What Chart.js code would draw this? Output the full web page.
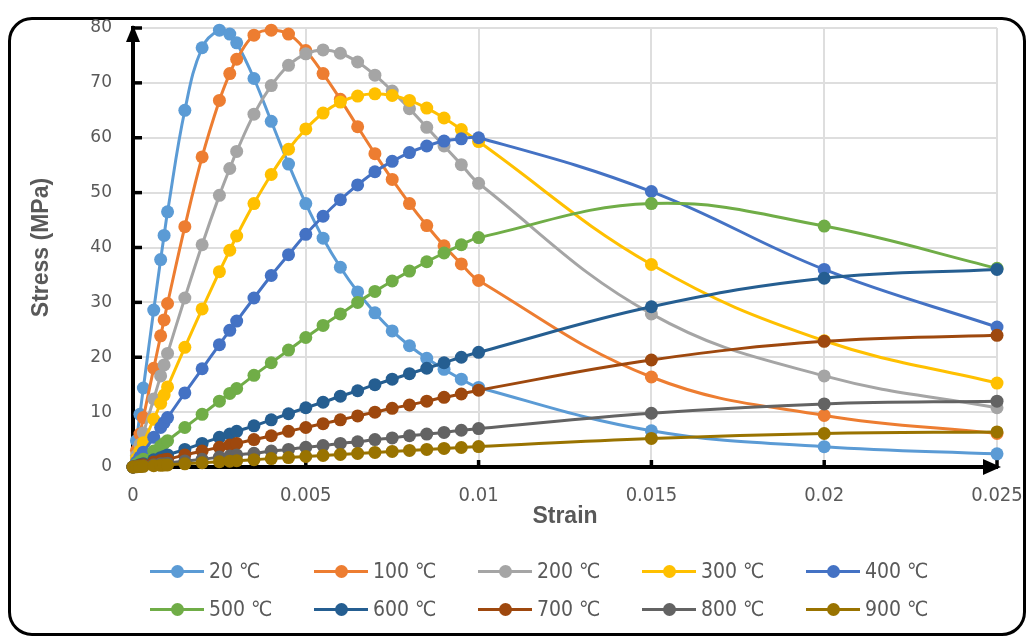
<!DOCTYPE html>
<html>
<head>
<meta charset="UTF-8">
<title>Stress - Strain</title>
<script src="https://cdn.jsdelivr.net/npm/chart.js"></script>
<style>
  html, body { margin: 0; padding: 0; background: #fff; }
  body { width: 1032px; height: 639px; position: relative; overflow: hidden; }
  #frame { position: absolute; left: 8px; top: 17px; width: 1018px; height: 619px; box-sizing: border-box;
           border: 3px solid #000; border-radius: 24px; }
  #chart { position: absolute; left: 0; top: 0; }
  #legend { position: absolute; left: 0; top: 0; width: 1032px; height: 639px;
            font-family: "Liberation Sans Narrow", "DejaVu Sans Condensed", sans-serif; font-size: 21px; color: #595959; }
  .item { position: absolute; height: 24px; display: flex; align-items: center; white-space: nowrap; }
  .sym { position: relative; width: 54px; height: 24px; }
  .sym .ln { position: absolute; left: 0; right: 0; top: 10.5px; height: 3px; }
  .sym .dot { position: absolute; left: 20.5px; top: 5.5px; width: 13px; height: 13px; border-radius: 50%; }
  .txt { margin-left: 5px; }
</style>
</head>
<body>
<div id="frame"></div>
<canvas id="chart" width="1032" height="639"></canvas>
<div id="legend"></div>
<script>
// strain values (common to all curves)
var strain = [0, 0.0001, 0.0002, 0.0003, 0.0006, 0.0008, 0.0009, 0.001, 0.0015, 0.002, 0.0025, 0.0028, 0.003,
              0.0035, 0.004, 0.0045, 0.005, 0.0055, 0.006, 0.0065, 0.007, 0.0075, 0.008, 0.0085, 0.009, 0.0095, 0.01,
              0.015, 0.02, 0.025];

// stress (MPa) for each temperature
var s20  = [0, 4.8, 9.6, 14.4, 28.6, 37.8, 42.2, 46.5, 65.0, 76.4, 79.6, 78.9, 77.3, 70.8, 63.0, 55.2, 48.0, 41.7, 36.4, 31.9, 28.1, 24.8, 22.1, 19.8, 17.8, 16.0, 14.5, 6.6, 3.7, 2.4];
var s100 = [0, 3.0, 6.0, 9.0, 18.0, 23.9, 26.8, 29.8, 43.8, 56.5, 66.8, 71.7, 74.3, 78.7, 79.6, 78.9, 75.9, 71.7, 67.0, 62.0, 57.1, 52.4, 48.0, 44.0, 40.3, 37.0, 34.0, 16.4, 9.4, 6.1];
var s200 = [0, 2.1, 4.1, 6.2, 12.4, 16.6, 18.6, 20.7, 30.8, 40.5, 49.5, 54.4, 57.5, 64.3, 69.5, 73.2, 75.3, 76.0, 75.4, 73.8, 71.4, 68.5, 65.3, 61.9, 58.5, 55.1, 51.7, 27.9, 16.6, 10.8];
var s300 = [0, 1.5, 2.9, 4.4, 8.7, 11.6, 13.1, 14.6, 21.8, 28.8, 35.6, 39.5, 42.1, 48.0, 53.3, 57.9, 61.6, 64.5, 66.5, 67.6, 68.0, 67.7, 66.8, 65.4, 63.6, 61.5, 59.3, 36.9, 23.0, 15.3];
var s400 = [0, 0.9, 1.8, 2.7, 5.4, 7.2, 8.1, 9.0, 13.5, 17.9, 22.3, 24.9, 26.6, 30.8, 34.9, 38.7, 42.4, 45.7, 48.7, 51.4, 53.8, 55.7, 57.3, 58.5, 59.4, 59.8, 60.0, 50.2, 36.0, 25.5];
var s500 = [0, 0.5, 1.0, 1.4, 2.9, 3.8, 4.3, 4.8, 7.2, 9.6, 12.0, 13.4, 14.3, 16.7, 19.0, 21.3, 23.6, 25.8, 27.9, 30.0, 32.0, 33.9, 35.7, 37.4, 39.0, 40.5, 41.8, 48.0, 43.9, 36.2];
var s600 = [0, 0.2, 0.4, 0.6, 1.3, 1.7, 1.9, 2.2, 3.2, 4.3, 5.4, 6.0, 6.5, 7.5, 8.6, 9.7, 10.8, 11.8, 12.9, 13.9, 15.0, 16.0, 17.0, 18.0, 19.0, 20.0, 20.9, 29.2, 34.4, 36.0];
var s700 = [0, 0.1, 0.3, 0.4, 0.9, 1.2, 1.3, 1.4, 2.2, 2.9, 3.6, 4.0, 4.3, 5.0, 5.7, 6.5, 7.2, 7.9, 8.6, 9.3, 10.0, 10.7, 11.3, 12.0, 12.7, 13.3, 14.0, 19.5, 22.9, 24.0];
var s800 = [0, 0.1, 0.1, 0.2, 0.4, 0.6, 0.6, 0.7, 1.1, 1.4, 1.8, 2.0, 2.2, 2.5, 2.9, 3.2, 3.6, 3.9, 4.3, 4.6, 5.0, 5.3, 5.7, 6.0, 6.3, 6.7, 7.0, 9.8, 11.5, 12.0];
var s900 = [0, 0.04, 0.08, 0.12, 0.23, 0.31, 0.35, 0.38, 0.58, 0.77, 0.96, 1.07, 1.15, 1.34, 1.53, 1.72, 1.91, 2.10, 2.29, 2.47, 2.66, 2.84, 3.02, 3.20, 3.38, 3.55, 3.72, 5.20, 6.11, 6.4];

var seriesNames  = ['20 ℃', '100 ℃', '200 ℃', '300 ℃', '400 ℃', '500 ℃', '600 ℃', '700 ℃', '800 ℃', '900 ℃'];
var seriesColors = ['#5B9BD5', '#ED7D31', '#A5A5A5', '#FFC000', '#4472C4', '#70AD47', '#255E91', '#9E480E', '#636363', '#997300'];
var seriesData   = [s20, s100, s200, s300, s400, s500, s600, s700, s800, s900];

var xTickValues = [0, 0.005, 0.01, 0.015, 0.02, 0.025];
var xTickLabels = ['0', '0.005', '0.01', '0.015', '0.02', '0.025'];
var yTickValues = [0, 10, 20, 30, 40, 50, 60, 70, 80];
var yTickLabels = ['0', '10', '20', '30', '40', '50', '60', '70', '80'];

var datasets = seriesData.map(function (arr, i) {
    return {
        label: seriesNames[i],
        data: strain.map(function (x, j) { return { x: x, y: arr[j] }; }),
        borderColor: seriesColors[i],
        backgroundColor: seriesColors[i],
        borderWidth: 3,
        pointRadius: 6.5,
        pointBorderWidth: 0,
        tension: 0.4,
        clip: false,
        order: seriesData.length - 1 - i   // later series drawn on top, like Excel
    };
});

// black axes with arrow heads and inside tick marks
var axisDeco = {
    id: 'axisDeco',
    beforeDatasetsDraw: function (chart) {
        var ctx = chart.ctx, a = chart.chartArea, xs = chart.scales.x, ys = chart.scales.y;
        ctx.save();
        ctx.fillStyle = '#000';
        ctx.strokeStyle = '#000';
        ctx.lineWidth = 3.5;
        ys.ticks.forEach(function (t) {
            var y = ys.getPixelForValue(t.value);
            ctx.beginPath(); ctx.moveTo(a.left, y); ctx.lineTo(a.left + 9, y); ctx.stroke();
        });
        xs.ticks.forEach(function (t) {
            var x = xs.getPixelForValue(t.value);
            ctx.beginPath(); ctx.moveTo(x, a.bottom); ctx.lineTo(x, a.bottom - 7); ctx.stroke();
        });
        ctx.beginPath();
        ctx.moveTo(a.left, a.top - 3); ctx.lineTo(a.left - 7, a.top + 14); ctx.lineTo(a.left + 7, a.top + 14);
        ctx.closePath(); ctx.fill();
        ctx.beginPath();
        ctx.moveTo(a.right + 4, a.bottom); ctx.lineTo(a.right - 14, a.bottom - 8); ctx.lineTo(a.right - 14, a.bottom + 8);
        ctx.closePath(); ctx.fill();
        ctx.restore();
    }
};

var tickFont = '"Liberation Sans Narrow", "DejaVu Sans Condensed", sans-serif';
var titleFont = '"Liberation Sans", Arial, sans-serif';

new Chart(document.getElementById('chart').getContext('2d'), {
    type: 'line',
    data: { datasets: datasets },
    options: {
        responsive: false,
        animation: false,
        layout: { padding: { top: 28, right: 35, bottom: 108, left: 0 } },
        plugins: { legend: { display: false }, tooltip: { enabled: false } },
        scales: {
            x: {
                type: 'linear',
                min: 0,
                max: 0.025,
                afterBuildTicks: function (s) { s.ticks = xTickValues.map(function (v) { return { value: v }; }); },
                afterFit: function (s) { s.height = 64; s.paddingLeft = 0; s.paddingRight = 0; },
                ticks: {
                    callback: function (v, i) { return xTickLabels[i]; },
                    font: { family: tickFont, size: 20 },
                    color: '#595959',
                    padding: 17,
                    maxRotation: 0
                },
                grid: { color: '#dedede', lineWidth: 2, drawTicks: false },
                border: { color: '#000', width: 4 },
                title: {
                    display: true,
                    text: 'Strain',
                    font: { family: titleFont, size: 23, weight: 'bold' },
                    color: '#595959',
                    padding: { top: 0, bottom: 1 }
                }
            },
            y: {
                min: 0,
                max: 80,
                afterBuildTicks: function (s) { s.ticks = yTickValues.map(function (v) { return { value: v }; }); },
                afterFit: function (s) { s.width = 133; s.paddingTop = 0; s.paddingBottom = 0; },
                ticks: {
                    callback: function (v, i) { return yTickLabels[i]; },
                    font: { family: '"DejaVu Sans", Verdana, sans-serif', size: 17 },
                    color: '#595959',
                    padding: 21
                },
                grid: { color: '#dedede', lineWidth: 2, drawTicks: false },
                border: { color: '#000', width: 4 },
                title: {
                    display: true,
                    text: 'Stress (MPa)',
                    font: { family: titleFont, size: 23, weight: 'bold' },
                    color: '#595959',
                    padding: { top: 28, bottom: 0 }
                }
            }
        }
    },
    plugins: [axisDeco]
});

// legend laid out in Excel-like columns
var legend = document.getElementById('legend');
var legendCols = [150, 314, 478, 642, 806];
var legendRows = [571, 609];
seriesNames.forEach(function (name, i) {
    var item = document.createElement('div');
    item.className = 'item';
    item.style.left = legendCols[i % 5] + 'px';
    item.style.top = (legendRows[Math.floor(i / 5)] - 12) + 'px';
    item.innerHTML = '<div class="sym"><div class="ln" style="background:' + seriesColors[i] + '"></div>' +
        '<div class="dot" style="background:' + seriesColors[i] + '"></div></div><span class="txt">' + name + '</span>';
    legend.appendChild(item);
});
</script>
</body>
</html>
